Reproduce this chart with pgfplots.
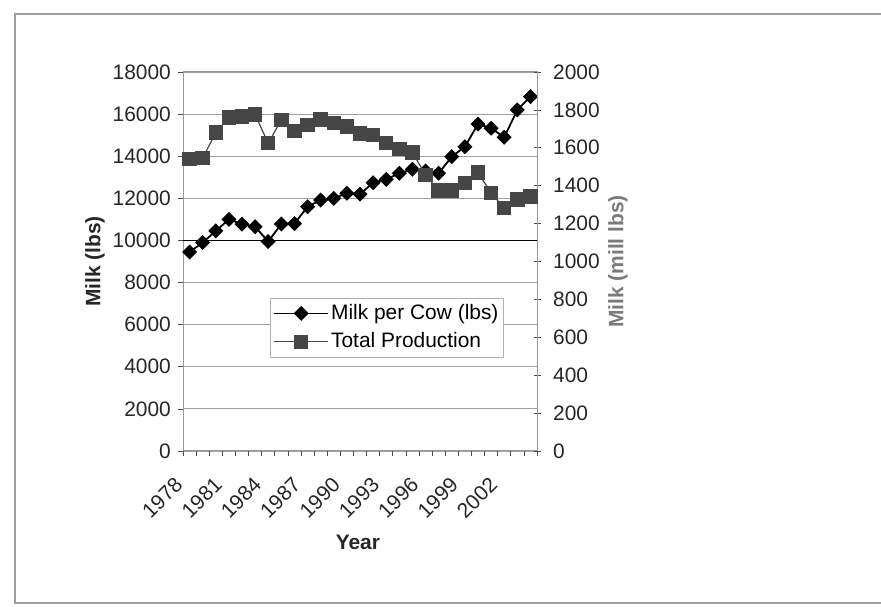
\documentclass[border=0pt]{standalone}
\usepackage{pgfplots}
\pgfplotsset{compat=1.18}
\usepackage{fontspec}
\setmainfont{Liberation Sans}
\definecolor{prodgray}{HTML}{464646}
\definecolor{gridgray}{HTML}{A0A0A0}
\definecolor{labgray}{HTML}{7A7A7A}
\pgfplotstableread{
year milk prod
1978 9450 1540
1979 9900 1546
1980 10450 1680
1981 11000 1760
1982 10780 1766
1983 10650 1775
1984 9950 1624
1985 10780 1747
1986 10800 1688
1987 11600 1720
1988 11920 1750
1989 12000 1732
1990 12240 1712
1991 12200 1675
1992 12740 1667
1993 12900 1626
1994 13190 1594
1995 13380 1575
1996 13300 1457
1997 13190 1374
1998 13980 1374
1999 14450 1413
2000 15530 1469
2001 15330 1363
2002 14900 1281
2003 16200 1328
2004 16830 1342
}\datatable
\begin{document}
\fontsize{21}{25}\selectfont
\begin{tikzpicture}
\path[use as bounding box] (0bp,0bp) rectangle (881bp,607bp);
\draw[gray!75, line width=1.6bp] (881bp,593bp) -- (15bp,593bp) -- (15bp,4bp) -- (881bp,4bp);
\begin{axis}[
  at={(183bp,156bp)}, anchor=south west,
  scale only axis, width=354bp, height=379bp,
  xmin=1977.5, xmax=2004.5, ymin=0, ymax=18000,
  scaled y ticks=false,
  xtick={1978,1981,...,2002},
  minor xtick={1977.5,1978.5,...,2004.5},
  ytick={0,2000,...,18000},
  minor ytick={0,2000,...,18000},
  xtick pos=bottom, ytick pos=left,
  major tick length=0pt, minor tick length=5bp,
  tick align=outside,
  minor tick style={black!70, line width=0.6bp},
  axis line style={gray!80, line width=1bp},
  ymajorgrids, grid style={gridgray, line width=0.8bp},
  extra y ticks={10000}, extra y tick labels={},
  extra y tick style={grid style={black, line width=0.8bp}},
  /pgf/number format/assume math mode=true,
  /pgf/number format/1000 sep={},
  xticklabel style={rotate=45, xshift=-21.9bp, yshift=0.7bp, anchor=north east, font=\fontsize{21}{25}\selectfont, text=black!85},
  yticklabel style={xshift=-5bp, font=\fontsize{21}{25}\selectfont, text=black!85},
  ylabel={\textbf{Milk (lbs)}},
  ylabel style={at={(axis description cs:-0.249,0.5)}, anchor=center, font=\fontsize{21}{25}\selectfont, text=black!85},
  xlabel={\textbf{Year}},
  xlabel style={at={(axis description cs:0.494,-0.240)}, anchor=center, font=\fontsize{21}{25}\selectfont, text=black!85},
]
\addplot[black, line width=1.8bp, mark=square*, mark size=4.4bp, mark options={rotate=45, solid}] table[x=year, y=milk] {\datatable};
\end{axis}
\begin{axis}[
  at={(183bp,156bp)}, anchor=south west,
  scale only axis, width=354bp, height=379bp,
  xmin=1977.5, xmax=2004.5, ymin=0, ymax=2000,
  hide x axis,
  axis y line*=right,
  ytick={0,200,...,2000},
  minor ytick={0,200,...,2000},
  major tick length=0pt, minor tick length=7bp,
  tick align=center,
  minor tick style={black!70, line width=0.6bp},
  axis line style={gray!80, line width=1bp},
  /pgf/number format/assume math mode=true,
  /pgf/number format/1000 sep={},
  yticklabel style={font=\fontsize{21}{25}\selectfont, text=black!85, xshift=9bp},
  ylabel={\textbf{Milk (mill lbs)}},
  ylabel style={at={(axis description cs:1.229,0.5)}, anchor=center, rotate=0, font=\fontsize{21}{25}\selectfont, text=labgray},
  legend style={at={(axis description cs:0.2458,0.4037)}, anchor=north west,
    draw=gray!60, line width=0.6bp, fill=white, font=\fontsize{21}{25}\selectfont,
    inner xsep=3bp, inner ysep=4bp, row sep=6bp, cells={anchor=west}},
  legend image code/.code={\draw[mark repeat=2, mark phase=2, #1] plot coordinates {(0bp,0bp) (27bp,0bp) (54bp,0bp)};},
]
\addlegendimage{black, line width=1.8bp, mark=square*, mark size=4.4bp, mark options={rotate=45, solid}}
\addlegendentry{Milk per Cow (lbs)}
\addplot[prodgray, line width=1.2bp, mark=square*, mark size=6.6bp, mark options={solid, fill=prodgray, draw=prodgray}] table[x=year, y=prod] {\datatable};
\addlegendentry{Total Production}
\end{axis}
\end{tikzpicture}
\end{document}
